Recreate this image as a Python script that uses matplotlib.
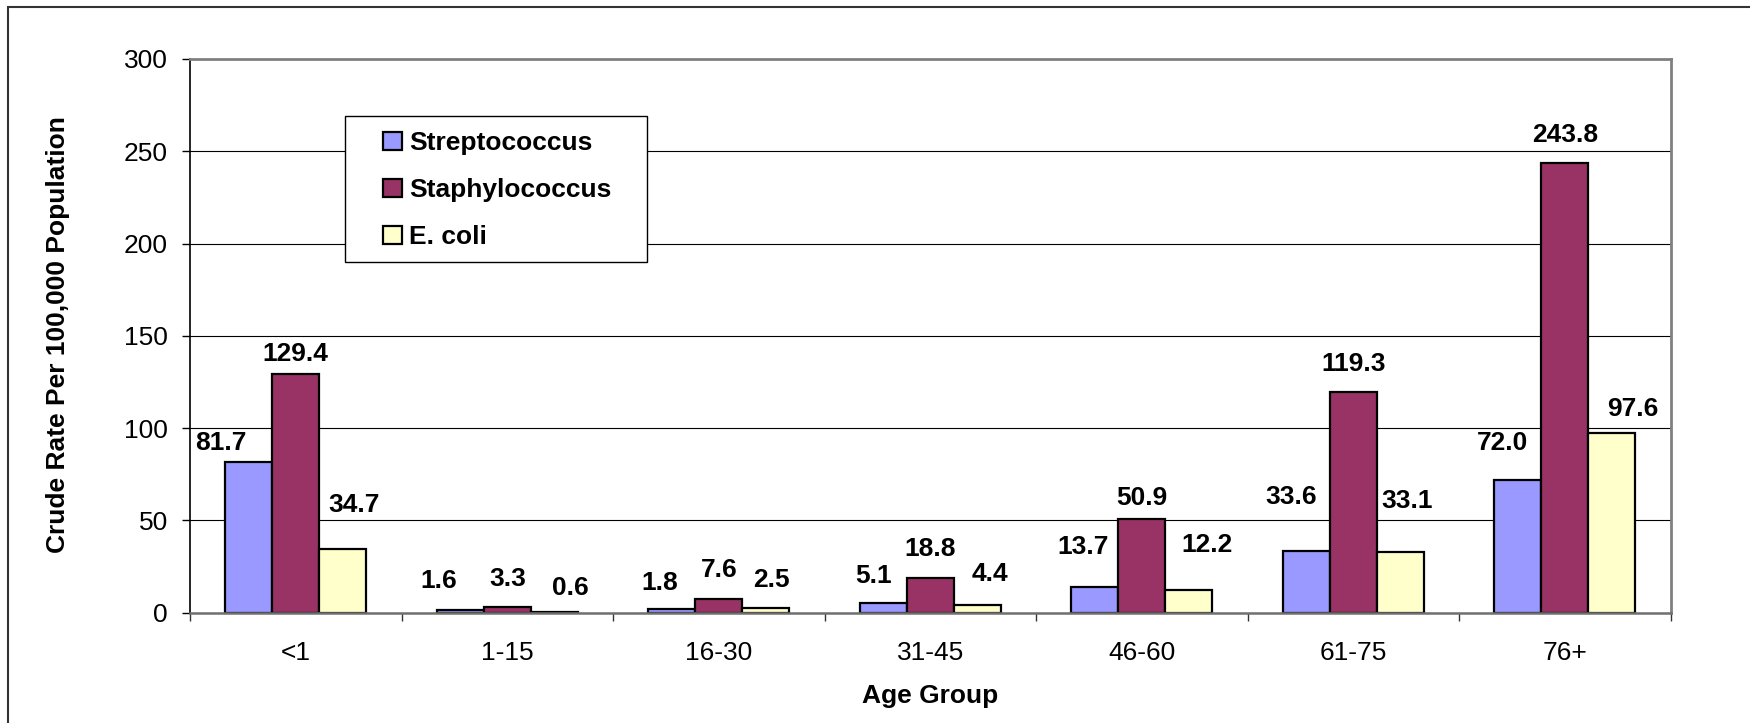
import numpy as np
import matplotlib
matplotlib.use("Agg")
import matplotlib.pyplot as plt
from matplotlib.patches import Rectangle

# ---------------- data ----------------
categories = ["<1", "1-15", "16-30", "31-45", "46-60", "61-75", "76+"]
series_names = ["Streptococcus", "Staphylococcus", "E. coli"]
strep = [81.7, 1.6, 1.8, 5.1, 13.7, 33.6, 72.0]
staph = [129.4, 3.3, 7.6, 18.8, 50.9, 119.3, 243.8]
ecoli = [34.7, 0.6, 2.5, 4.4, 12.2, 33.1, 97.6]
y_ticks = [0, 50, 100, 150, 200, 250, 300]

# ---------------- style / layout ----------------
colors = ["#9999FF", "#993366", "#FFFFCC"]
# data-label nudges (pixels): horizontal from bar centre, vertical above bar top
label_dx = [[-28, -21.6, -11.8, -10, -11.5, -15, -15],
            [0, 0, 0, 0, 0, 0, 0],
            [11, 16, 5.5, 13, 18, 7, 21]]
label_dy = [[19, 28.7, 26.6, 27.5, 40.7, 53.5, 36.8],
            [19.5, 27.8, 29, 29, 20.9, 28.5, 28],
            [43.5, 23.8, 27.8, 30.8, 45.5, 50.6, 24]]

plt.rcParams["font.family"] = ["Liberation Sans", "DejaVu Sans"]
FS = 19

W, H = 1750, 723
fig = plt.figure(figsize=(W / 100, H / 100), dpi=100)
fig.patch.set_facecolor("white")


def fx(px):
    return px / W


def fy(py):
    return 1 - py / H


L, R, T, B = 190, 1670.7, 58.9, 612.7
ax = fig.add_axes([fx(L), fy(B), (R - L) / W, (B - T) / H])

x = np.arange(len(categories))
w = 0.2222
all_vals = [strep, staph, ecoli]
for j, (name, vals, col) in enumerate(zip(series_names, all_vals, colors)):
    xs = x + (j - 1) * w
    ax.bar(xs, vals, width=w, color=col, edgecolor="black", linewidth=1.6,
           zorder=3, label=name)
    for i, (xi, v) in enumerate(zip(xs, vals)):
        ax.annotate(f"{v:.1f}", xy=(xi, v), xytext=(label_dx[j][i], label_dy[j][i]),
                    textcoords="offset pixels", ha="center", va="center",
                    fontsize=FS, fontweight="bold", zorder=4)

ax.set_xlim(-0.5, len(categories) - 0.5)
ax.set_ylim(0, 300)
ax.set_yticks(y_ticks)
ax.set_yticklabels([str(t) for t in y_ticks], fontsize=FS)
ax.yaxis.grid(True, color="black", linewidth=0.8, zorder=0)
ax.set_axisbelow(True)
ax.tick_params(axis="y", length=5.8, width=1, color="black", pad=10)

ax.set_xticks(np.arange(-0.5, len(categories), 1.0))
ax.set_xticklabels([])
ax.set_xticks(x, minor=True)
ax.set_xticklabels(categories, minor=True, fontsize=FS)
ax.tick_params(axis="x", which="major", length=5.8, width=1, color="#333333")
ax.tick_params(axis="x", which="minor", length=0, pad=20.5)

for side in ["top", "right"]:
    ax.spines[side].set_color("#808080")
    ax.spines[side].set_linewidth(2)
ax.spines["bottom"].set_color("#707070")
ax.spines["bottom"].set_linewidth(1.8)
ax.spines["left"].set_color("black")
ax.spines["left"].set_linewidth(1.2)
for s in ax.spines.values():
    s.set_zorder(5)

# axis titles
fig.text(fx(58.5), fy(553.3), "Crude Rate Per 100,000 Population", rotation=90,
         ha="center", va="bottom", fontsize=FS, fontweight="bold")
fig.text(fx((L + R) / 2), fy(703.3), "Age Group", ha="center", va="baseline",
         fontsize=FS, fontweight="bold")

# legend box + legend
box = Rectangle((fx(345), fy(262.3)), (646.7 - 345) / W, (262.3 - 115.7) / H,
                transform=fig.transFigure, facecolor="white", edgecolor="black",
                linewidth=1, zorder=4)
fig.patches.append(box)
handles, labels = ax.get_legend_handles_labels()
leg = fig.legend(handles, labels, loc="upper left",
                 bbox_to_anchor=(fx(383.3), fy(131)), bbox_transform=fig.transFigure,
                 frameon=False, prop={"size": FS, "weight": "bold"},
                 handlelength=0.7, handleheight=0.7, handletextpad=0.28,
                 labelspacing=0.88, borderpad=0, borderaxespad=0)
leg.set_zorder(6)

# outer chart border (left & top visible)
outer = Rectangle((fx(8), fy(740)), (1770 - 8) / W, (740 - 7) / H,
                  transform=fig.transFigure, fill=False, edgecolor="#333333",
                  linewidth=1.5, zorder=7)
fig.patches.append(outer)

fig.savefig("out.png", dpi=100)
